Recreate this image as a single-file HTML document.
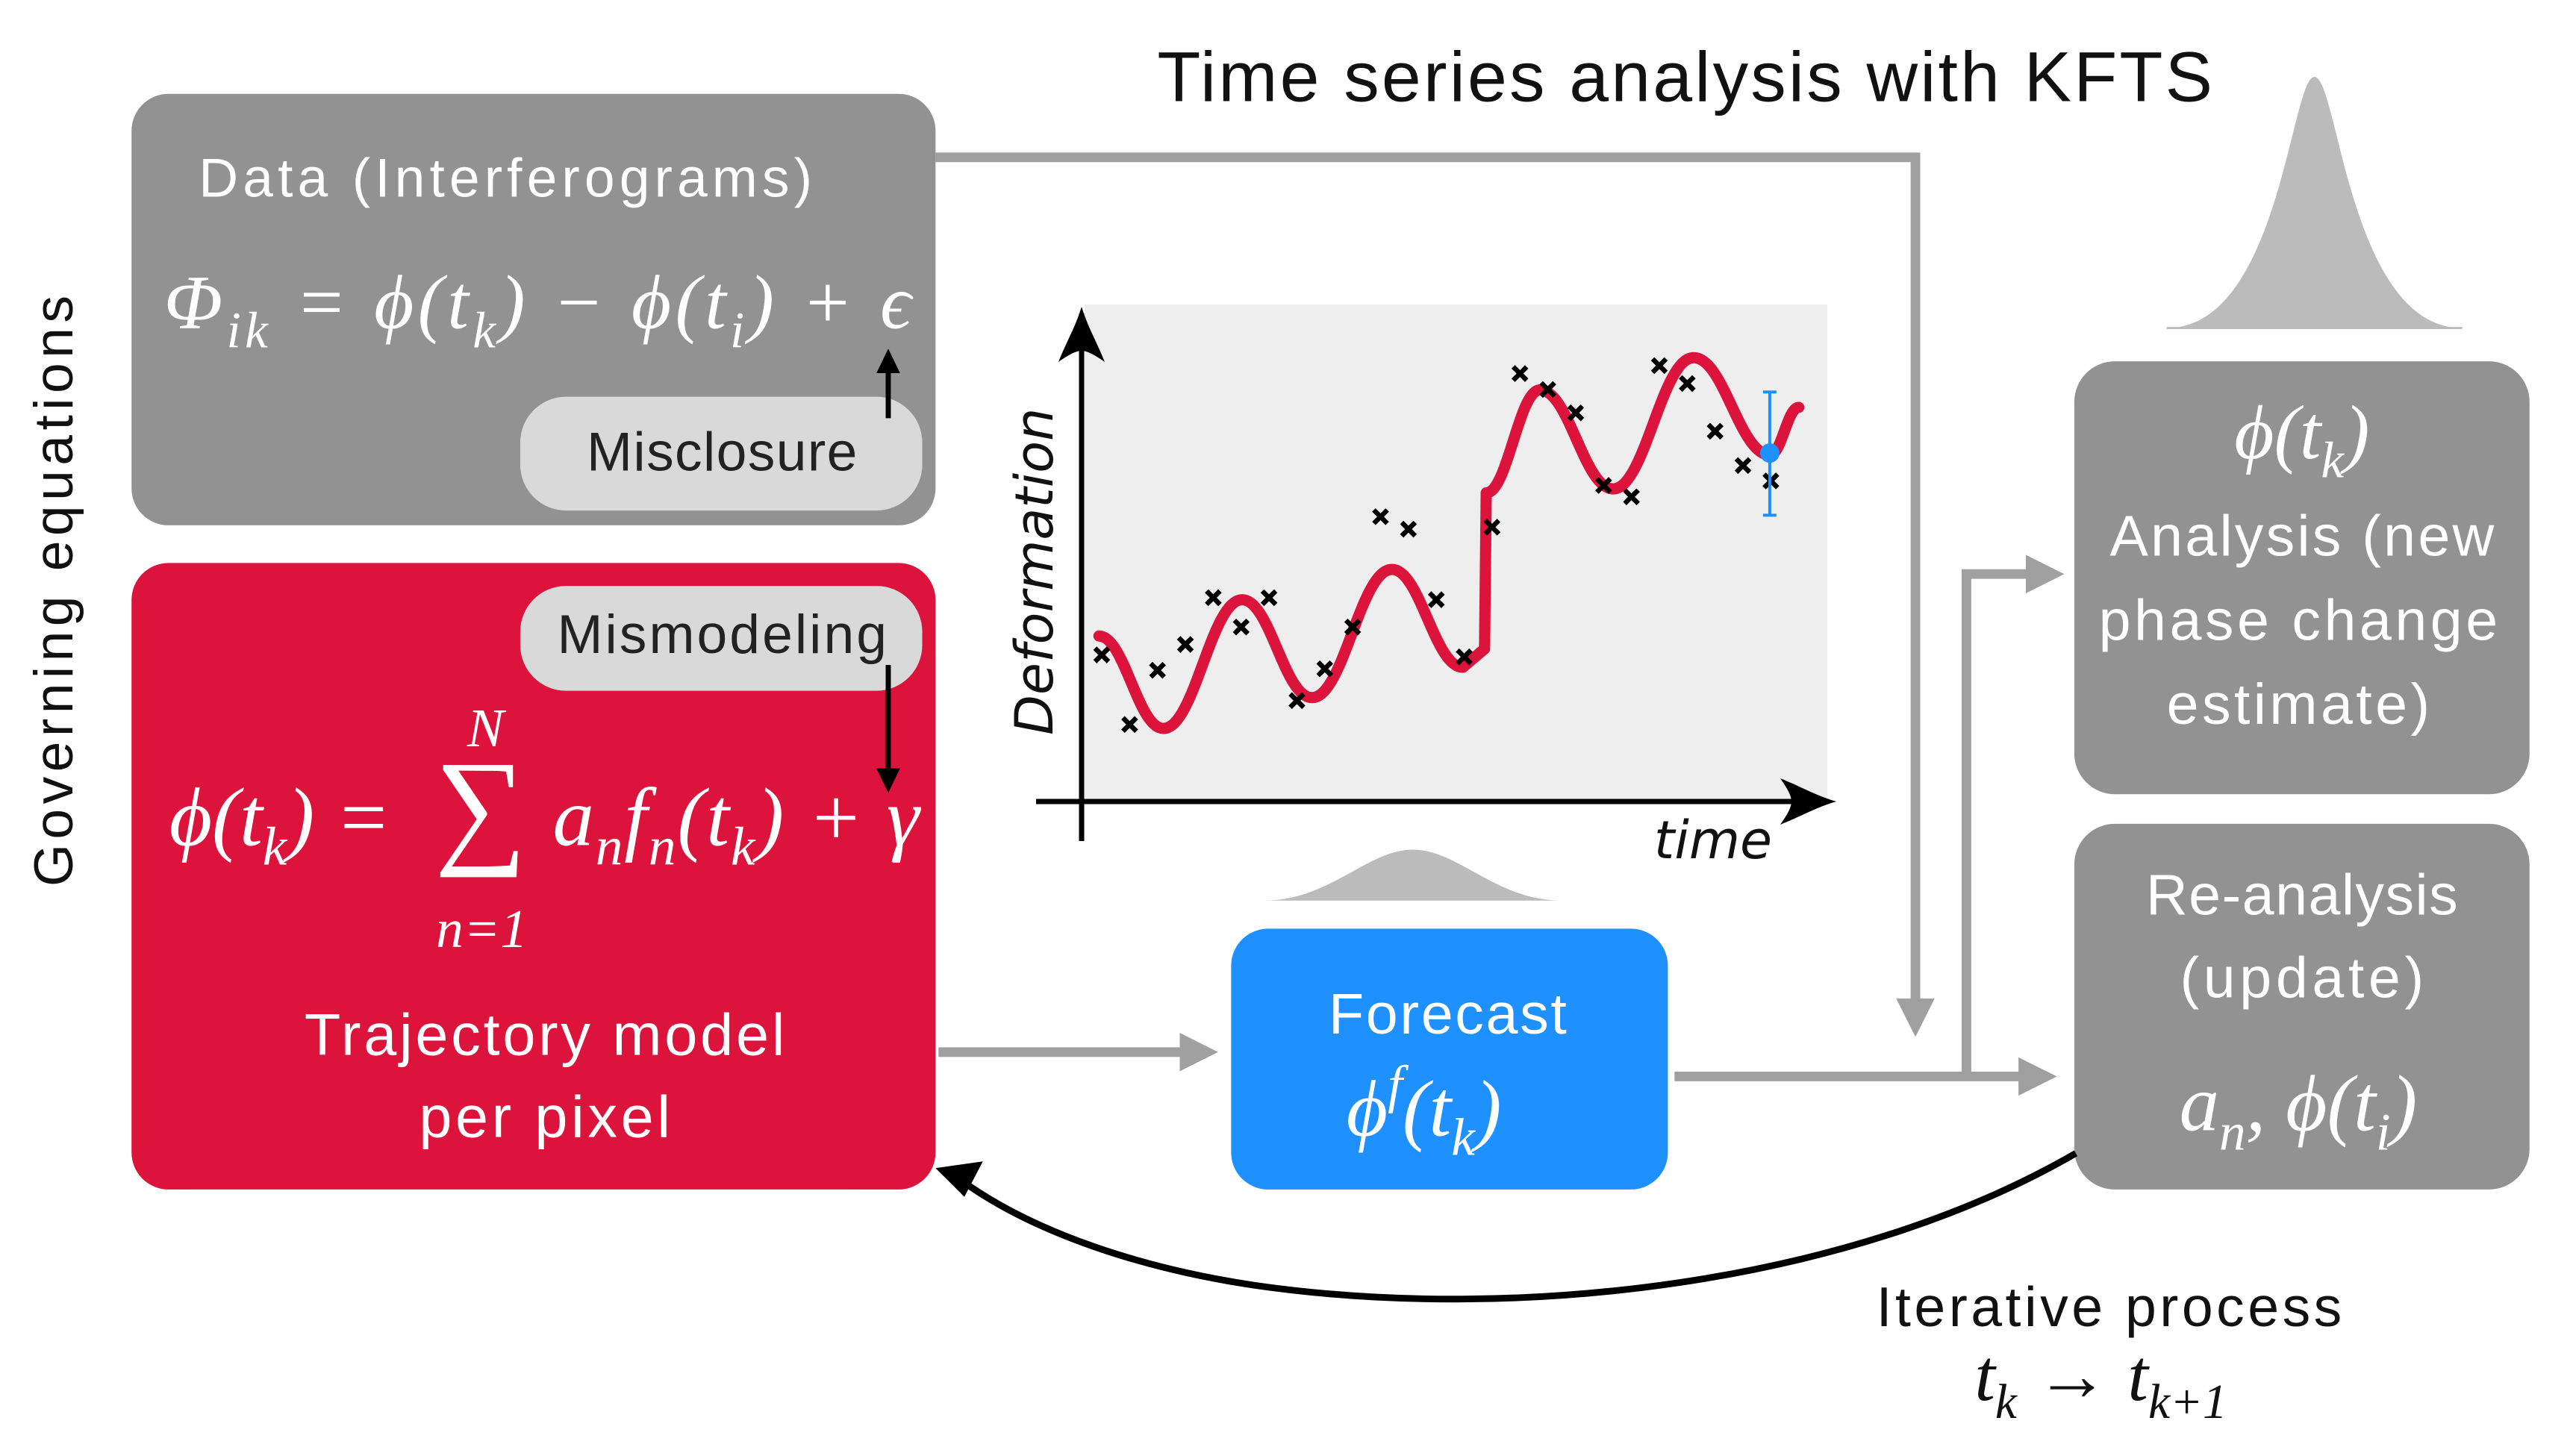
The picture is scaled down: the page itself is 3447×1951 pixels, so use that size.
<!DOCTYPE html>
<html><head><meta charset="utf-8"><style>
html,body{margin:0;padding:0;background:#fff;}
svg{display:block;}
.s{font-family:"Liberation Sans",sans-serif;}
.m{font-family:"Liberation Serif",serif;font-style:italic;}
</style></head><body>
<svg id="root" width="3447" height="1951" viewBox="0 0 3447 1951" xmlns="http://www.w3.org/2000/svg">
<defs>
<marker id="gh" markerWidth="4" markerHeight="4" refX="2.2" refY="2" orient="auto" markerUnits="strokeWidth"><path d="M0,0 L4,2 L0,4 z" fill="#a0a0a0"/></marker>
</defs>
<g transform="scale(0.99)">
<text class="s" x="2280" y="137" font-size="96" text-anchor="middle" fill="#111" textLength="1428">Time series analysis with KFTS</text>
<text class="s" transform="translate(98,800) rotate(-90)" font-size="74" text-anchor="middle" fill="#111" textLength="800">Governing equations</text>

<g>
<rect x="178" y="127" width="1088" height="584" rx="50" fill="#929292"/>
<text class="s" x="684" y="266" font-size="74" text-anchor="middle" fill="#fff" textLength="830">Data (Interferograms)</text>
<text class="m" x="222" y="444" font-size="104" fill="#fff" textLength="1011">Φ<tspan font-size="70" dy="26">ik</tspan><tspan dy="-26"> = ϕ(t</tspan><tspan font-size="70" dy="26">k</tspan><tspan dy="-26">) − ϕ(t</tspan><tspan font-size="70" dy="26">i</tspan><tspan dy="-26">) + ϵ</tspan></text>
<rect x="704" y="537" width="544" height="154" rx="62" fill="#d9d9d9"/>
<text class="s" x="977" y="637" font-size="74" text-anchor="middle" fill="#222" textLength="366">Misclosure</text>
<line x1="1202" y1="566" x2="1202" y2="500" stroke="#000" stroke-width="7"/>
<path d="M1186,505 L1202,472 L1218,505 z" fill="#000"/>
</g>

<g>
<rect x="178" y="762" width="1088" height="848" rx="50" fill="#dc143c"/>
<rect x="704" y="793" width="544" height="142" rx="62" fill="#d9d9d9"/>
<text class="s" x="977" y="884" font-size="74" text-anchor="middle" fill="#222" textLength="446">Mismodeling</text>
<line x1="1202" y1="900" x2="1202" y2="1045" stroke="#000" stroke-width="7"/>
<path d="M1186,1040 L1202,1073 L1218,1040 z" fill="#000"/>
<text class="m" x="229" y="1144" font-size="112" fill="#fff" textLength="300">ϕ(t<tspan font-size="74" dy="26">k</tspan><tspan dy="-26">) =</tspan></text>
<text x="588" y="1150" font-family="Liberation Serif,serif" font-size="175" fill="#fff">∑</text>
<text class="m" x="657" y="1010" font-size="74" text-anchor="middle" fill="#fff">N</text>
<text class="m" x="652" y="1282" font-size="74" text-anchor="middle" fill="#fff">n=1</text>
<text class="m" x="748" y="1144" font-size="112" fill="#fff" textLength="496">a<tspan font-size="74" dy="26">n</tspan><tspan dy="-26">f</tspan><tspan font-size="74" dy="26">n</tspan><tspan dy="-26">(t</tspan><tspan font-size="74" dy="26">k</tspan><tspan dy="-26">) + γ</tspan></text>
<text class="s" x="737" y="1428" font-size="80" text-anchor="middle" fill="#fff" textLength="650">Trajectory model</text>
<text class="s" x="737" y="1539" font-size="80" text-anchor="middle" fill="#fff" textLength="340">per pixel</text>
</g>

<g>
<path d="M1710,1219 C1800,1219 1850,1150 1912,1150 C1974,1150 2024,1219 2114,1219 z" fill="#bbb"/>
<rect x="1666" y="1257" width="591" height="353" rx="50" fill="#1e90ff"/>
<text class="s" x="1959" y="1399" font-size="78" text-anchor="middle" fill="#fff" textLength="322">Forecast</text>
<text class="m" x="1822" y="1537" font-size="108" fill="#fff">ϕ<tspan font-size="72" dy="-45">f</tspan><tspan dy="45">(t</tspan><tspan font-size="72" dy="26">k</tspan><tspan dy="-26">)</tspan></text>
</g>

<g>
<path d="M2932,444 C3085,444 3100,104 3132,104 C3164,104 3179,444 3332,444" fill="#bbb"/>
<line x1="2932" y1="444" x2="3332" y2="444" stroke="#bbb" stroke-width="3"/>
<rect x="2807" y="489" width="616" height="586" rx="55" fill="#929292"/>
<text class="m" x="3115" y="620" font-size="104" text-anchor="middle" fill="#fff">ϕ(t<tspan font-size="70" dy="26">k</tspan><tspan dy="-26">)</tspan></text>
<text class="s" x="3115" y="752" font-size="78" text-anchor="middle" fill="#fff" textLength="520">Analysis (new</text>
<text class="s" x="3110" y="866" font-size="78" text-anchor="middle" fill="#fff" textLength="540">phase change</text>
<text class="s" x="3110" y="980" font-size="78" text-anchor="middle" fill="#fff" textLength="356">estimate)</text>
</g>

<g>
<rect x="2807" y="1115" width="616" height="495" rx="55" fill="#929292"/>
<text class="s" x="3115" y="1238" font-size="78" text-anchor="middle" fill="#fff" textLength="422">Re-analysis</text>
<text class="s" x="3115" y="1350" font-size="78" text-anchor="middle" fill="#fff" textLength="330">(update)</text>
<text class="m" x="3110" y="1530" font-size="108" text-anchor="middle" fill="#fff">a<tspan font-size="72" dy="26">n</tspan><tspan dy="-26">, ϕ(t</tspan><tspan font-size="72" dy="26">i</tspan><tspan dy="-26">)</tspan></text>
</g>

<g fill="none" stroke="#a0a0a0" stroke-width="13">
<polyline points="1266,213 2592,213 2592,1380" marker-end="url(#gh)"/>
<line x1="1270" y1="1424" x2="1625" y2="1424" marker-end="url(#gh)"/>
<line x1="2266" y1="1457" x2="2760" y2="1457" marker-end="url(#gh)"/>
<polyline points="2661,1457 2661,777 2770,777" marker-end="url(#gh)"/>
</g>
<path d="M2809,1561 C2500,1740 2050,1790 1700,1740 C1550,1718 1400,1670 1300,1597" fill="none" stroke="#000" stroke-width="9"/>
<path d="M1266,1581 L1330,1572 L1305,1620 z" fill="#000"/>
<text class="s" x="2854" y="1795" font-size="76" text-anchor="middle" fill="#111" textLength="630">Iterative process</text>
<text class="m" x="2843" y="1895" font-size="100" text-anchor="middle" fill="#111">t<tspan font-size="66" dy="24">k</tspan><tspan dy="-24"> → t</tspan><tspan font-size="66" dy="24">k+1</tspan></text>
</g>

<g id="chart">
<rect x="1453" y="408" width="995" height="666" fill="#eeeeee"/>
<line x1="1449" y1="420" x2="1449" y2="1127" stroke="#000" stroke-width="7"/>
<path d="M1449,411 C1440,440 1430,455 1418,485 C1432,475 1442,470 1449,470 C1456,470 1466,475 1480,485 C1468,455 1458,440 1449,411 z" fill="#000"/>
<line x1="1388" y1="1074" x2="2450" y2="1074" stroke="#000" stroke-width="7"/>
<path d="M2460,1074 C2430,1065 2415,1055 2385,1043 C2395,1057 2400,1067 2400,1074 C2400,1081 2395,1091 2385,1105 C2415,1093 2430,1083 2460,1074 z" fill="#000"/>
<text x="1410" y="985" transform="rotate(-90 1410 985)" font-family="DejaVu Sans,sans-serif" font-style="italic" font-size="70" fill="#111">Deformation</text>
<text x="2295" y="1150" font-family="DejaVu Sans,sans-serif" font-style="italic" font-size="70" text-anchor="middle" fill="#111">time</text>
<g id="marks"></g>
</g>
</svg>
<script>
const obsTimes = [0,1,2,3,4,5,6,7,8,9,10,11,12,13,14,15,16,17,18,19,20,21,22,23,24];
const obsValues = [29.5,15.5,26.4,31.6,41.0,35.1,41.0,20.3,26.7,35.1,57.3,54.8,40.6,29.1,55.2,86.1,82.9,78.2,63.6,61.3,87.7,84.1,74.5,67.6,64.5];
const curveTimes = [-0.1,2.21,5.04,7.54,10.41,12.95,13.73,13.79,15.72,18.34,21.23,23.97,25.0];
const curveValues = [33.3,14.7,40.6,20.9,46.7,27.0,30.7,62.1,82.8,62.9,89.3,69.7,79.3];
const forecastTime = [23.96];
const forecastValue = [70.1];
const forecastLow = [57.6];
const forecastHigh = [82.4];

function xs(t){ return 1476 + t*37.35; }
function ys(v){ return 1074 - v*6.66; }
const NS='http://www.w3.org/2000/svg';
const g=document.getElementById('marks');
function mk(tag,attrs){const e=document.createElementNS(NS,tag);for(const k in attrs)e.setAttribute(k,attrs[k]);g.appendChild(e);return e;}

let d='M'+xs(curveTimes[0])+','+ys(curveValues[0]);
for(let i=1;i<curveTimes.length;i++){
  const x0=xs(curveTimes[i-1]),y0=ys(curveValues[i-1]),x1=xs(curveTimes[i]),y1=ys(curveValues[i]);
  if(curveTimes[i]-curveTimes[i-1]<0.2 || i===6){ d+=' L'+x1+','+y1; continue; }
  const dx=(x1-x0)*0.4;
  d+=' C'+(x0+dx)+','+y0+' '+(x1-dx)+','+y1+' '+x1+','+y1;
}
const curve=mk('path',{d:d,fill:'none',stroke:'#dc143c','stroke-width':15,'stroke-linejoin':'round','stroke-linecap':'round'});



for(let i=0;i<obsTimes.length;i++){
  const x=xs(obsTimes[i]),y=ys(obsValues[i]),s=9;
  const p=mk('path',{d:`M${x-s},${y-s} L${x+s},${y+s} M${x-s},${y+s} L${x+s},${y-s}`,stroke:'#000','stroke-width':6.5,fill:'none'});
  
  
}
for(let i=0;i<forecastTime.length;i++){
  const x=xs(forecastTime[i]);
  const eb=mk('path',{d:`M${x},${ys(forecastHigh[i])} L${x},${ys(forecastLow[i])} M${x-9},${ys(forecastHigh[i])} L${x+9},${ys(forecastHigh[i])} M${x-9},${ys(forecastLow[i])} L${x+9},${ys(forecastLow[i])}`,stroke:'#1e90ff','stroke-width':4,fill:'none'});
  
  
  const c=mk('circle',{cx:x,cy:ys(forecastValue[i]),r:13,fill:'#1e90ff'});
  
  
}
</script>
</body></html>
